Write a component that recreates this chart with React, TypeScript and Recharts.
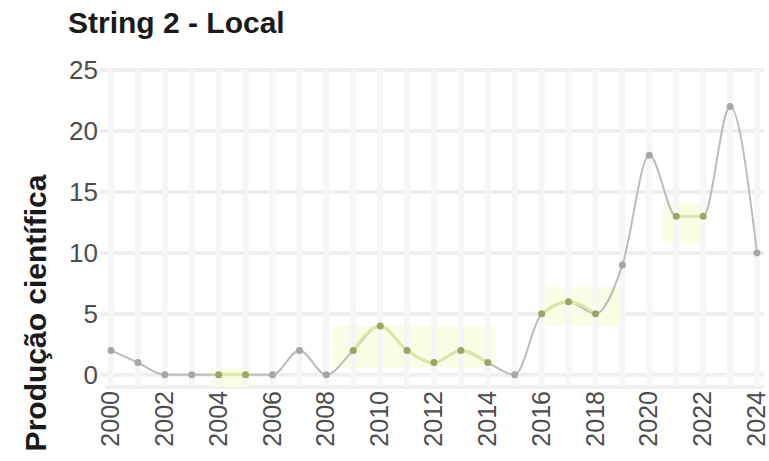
import React from "react";
import {
  LineChart,
  Line,
  XAxis,
  YAxis,
  CartesianGrid,
  ReferenceArea,
  ReferenceLine,
} from "recharts";

// anos e produção
const years = [
  2000, 2001, 2002, 2003, 2004, 2005, 2006, 2007, 2008, 2009, 2010, 2011, 2012,
  2013, 2014, 2015, 2016, 2017, 2018, 2019, 2020, 2021, 2022, 2023, 2024,
];
const production = [
  2, 1, 0, 0, 0, 0, 0, 2, 0, 2, 4, 2, 1, 2, 1, 0, 5, 6, 5, 9, 18, 13, 13, 22, 10,
];
const xTicks = [
  2000, 2002, 2004, 2006, 2008, 2010, 2012, 2014, 2016, 2018, 2020, 2022, 2024,
];
const yTicks = [0, 5, 10, 15, 20, 25];

// períodos destacados
const highlightBoxes = [
  { from: 2003.7, to: 2005.2, low: -1, high: 0.6 },
  { from: 2008.2, to: 2014.3, low: 0.6, high: 4 },
  { from: 2015.9, to: 2018.9, low: 4, high: 7.2 },
  { from: 2020.5, to: 2022.05, low: 10.8, high: 14.1 },
];

const inBox = (year: number) =>
  highlightBoxes.some((b) => year >= b.from && year <= b.to);

const data = years.map((year, i) => ({
  year,
  value: production[i],
  hl: inBox(year) ? production[i] : null,
}));

const XTick = (props: any) => {
  const { x, y, payload } = props;
  return (
    <g transform={`translate(${x - 1},${y})`}>
      <text
        transform="rotate(-90)"
        textAnchor="end"
        dominantBaseline="central"
        fill="#4d4d4d"
        fontSize={25}
        fontFamily="Liberation Sans, Arial, sans-serif"
      >
        {payload.value}
      </text>
    </g>
  );
};

const renderDot = (props: any) => {
  const { cx, cy, index, payload } = props;
  if (cx == null || cy == null) return <g key={`d-${index}`} />;
  const hl = inBox(payload.year);
  return (
    <circle
      key={`d-${index}`}
      cx={cx}
      cy={cy}
      r={3.5}
      fill={hl ? "#9aa764" : "#a6a6a6"}
      stroke="none"
    />
  );
};

export default function App() {
  return (
    <div
      style={{
        position: "absolute",
        left: 0,
        top: 0,
        width: 769,
        height: 461,
        background: "#fff",
        fontFamily: "Liberation Sans, Arial, sans-serif",
      }}
    >
      <div
        style={{
          position: "absolute",
          left: 68,
          top: 8,
          fontSize: 30,
          fontWeight: 700,
          color: "#1a1a1a",
          lineHeight: 1,
          whiteSpace: "nowrap",
        }}
      >
        String 2 - Local
      </div>
      <div
        style={{
          position: "absolute",
          left: 36,
          top: 313,
          transform: "translate(-50%, -50%) rotate(-90deg)",
          fontSize: 30,
          fontWeight: 700,
          color: "#1a1a1a",
          lineHeight: 1,
          whiteSpace: "nowrap",
        }}
      >
        Produção científica
      </div>
      <LineChart
        width={769}
        height={461}
        data={data}
        margin={{ top: 70, right: 5, bottom: 0, left: 0 }}
      >
        <CartesianGrid vertical={false} stroke="#efefef" strokeWidth={4} />
        {years.map((y) => (
          <ReferenceLine key={y} x={y} stroke="#f6f6f6" strokeWidth={6} />
        ))}
        {highlightBoxes.map((b, i) => (
          <ReferenceArea
            key={i}
            x1={b.from}
            x2={b.to}
            y1={b.low}
            y2={b.high}
            fill="#fafce4"
            fillOpacity={1}
            stroke="none"
          />
        ))}
        <XAxis
          dataKey="year"
          type="number"
          domain={[2000, 2024]}
          ticks={xTicks}
          interval={0}
          padding={{ left: 5, right: 7 }}
          axisLine={false}
          tickLine={false}
          tickSize={0}
          tickMargin={4}
          height={74}
          tick={<XTick />}
        />
        <YAxis
          type="number"
          domain={[-1, 25]}
          ticks={yTicks}
          interval={0}
          width={106}
          axisLine={false}
          tickLine={{ stroke: "#efefef", strokeWidth: 4 }}
          tickSize={6}
          tickMargin={2}
          tick={{
            fill: "#4d4d4d",
            fontSize: 26,
            fontFamily: "Liberation Sans, Arial, sans-serif",
          }}
        />
        <Line
          type="monotone"
          dataKey="value"
          stroke="#bdbdbd"
          strokeWidth={2}
          dot={false}
          isAnimationActive={false}
        />
        <Line
          type="monotone"
          dataKey="hl"
          stroke="#dde6a6"
          strokeWidth={3}
          dot={false}
          connectNulls={false}
          isAnimationActive={false}
        />
        <Line
          type="monotone"
          dataKey="value"
          stroke="none"
          dot={renderDot}
          activeDot={false}
          isAnimationActive={false}
        />
      </LineChart>
    </div>
  );
}
